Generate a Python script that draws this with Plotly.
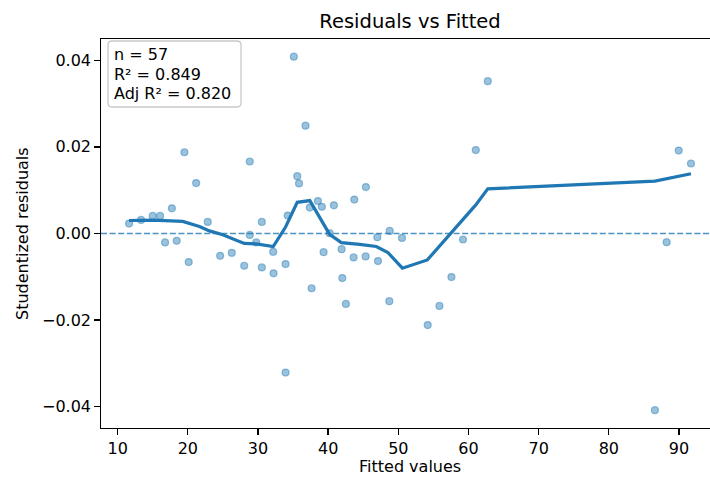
import plotly.graph_objects as go

# Scatter data: fitted values vs studentized residuals
fitted = [11.63, 13.34, 15.00, 16.05, 17.73, 16.76, 18.42, 20.13, 19.52, 21.19,
          22.84, 24.61, 26.27, 28.04, 28.83, 28.83, 29.75, 30.55, 30.55, 32.17,
          32.22, 34.24, 33.93, 33.93, 35.11, 35.60, 35.85, 36.78, 37.39, 37.64,
          38.54, 39.11, 39.35, 40.21, 40.82, 41.92, 42.02, 42.53, 43.73, 43.63,
          45.38, 45.34, 47.01, 47.10, 48.77, 48.72, 50.52, 54.19, 55.86, 57.57,
          59.22, 61.04, 62.75, 86.57, 88.24, 89.96, 91.71]
resid = [0.00230, 0.00313, 0.00405, 0.00405, 0.00582, -0.00207, -0.00170, -0.00660, 0.01876, 0.01163,
         0.00267, -0.00515, -0.00446, -0.00745, -0.00032, 0.01662, -0.00207, 0.00267, -0.00782, -0.00423,
         -0.00920, 0.00414, -0.00706, -0.03211, 0.04083, 0.01324, 0.01156, 0.02490, 0.00598, -0.01264,
         0.00749, 0.00616, -0.00430, 0.00007, 0.00651, -0.00361, -0.01028, -0.01625, 0.00782, -0.00552,
         0.01071, -0.00529, -0.00085, -0.00637, 0.00060, -0.01563, -0.00101, -0.02115, -0.01671, -0.01005,
         -0.00138, 0.01926, 0.03517, -0.04078, -0.00200, 0.01915, 0.01616]

# Smoothed (lowess) curve
low_x = [11.63, 15.00, 19.28, 21.66, 23.09, 24.98, 28.04, 29.75, 32.17, 33.93, 35.60, 37.39,
         40.21, 41.88, 44.48, 46.87, 48.52, 50.58, 54.14, 57.57, 59.22, 61.04, 62.75, 86.57, 91.71]
low_y = [0.0030, 0.0031, 0.0028, 0.0016, 0.0006, -0.0003, -0.0023, -0.0024, -0.0030, 0.0015, 0.0072, 0.0076,
         -0.0002, -0.0021, -0.0025, -0.0030, -0.0044, -0.0080, -0.0061, 0.0002, 0.0033, 0.0066, 0.0103, 0.0121, 0.0138]

x_ticks = [10, 20, 30, 40, 50, 60, 70, 80, 90]
y_ticks = [-0.04, -0.02, 0.00, 0.02, 0.04]
y_tick_text = ["\u22120.04", "\u22120.02", "0.00", "0.02", "0.04"]
stats_lines = ["n = 57", "R\u00b2 = 0.849", "Adj R\u00b2 = 0.820"]

W, H = 710, 479
# plot area in window pixels
PX0, PX1, PY0, PY1 = 101, 710, 39, 428
L, R, T, B = PX0, W - PX1, PY0, H - PY1
pw, ph = PX1 - PX0, PY1 - PY0

def px2paper(x, y):
    return (x - PX0) / pw, (PY1 - y) / ph

FONT = "DejaVu Sans, Verdana, sans-serif"
BLUE = "#1f77b4"

fig = go.Figure()
fig.add_trace(go.Scatter(
    x=fitted, y=resid, mode="markers",
    marker=dict(size=7, color="rgba(31,119,180,0.45)",
                line=dict(width=1.2, color="rgba(31,119,180,0.45)")),
    showlegend=False, hoverinfo="skip"))
fig.add_trace(go.Scatter(
    x=low_x, y=low_y, mode="lines",
    line=dict(color=BLUE, width=3.2), showlegend=False, hoverinfo="skip"))

# dashed zero line
fig.add_shape(type="line", xref="paper", x0=0, x1=1, yref="y", y0=0, y1=0,
              line=dict(color="rgba(31,119,180,0.8)", width=1.6, dash="6px,2.6px"))

# rounded stats box
bx0, by0 = px2paper(108, 41)
bx1, by1 = px2paper(241, 107)
rx = 4 / pw
ry = 4 / ph
path = (f"M {bx0+rx},{by1} L {bx1-rx},{by1} Q {bx1},{by1} {bx1},{by1+ry} "
        f"L {bx1},{by0-ry} Q {bx1},{by0} {bx1-rx},{by0} "
        f"L {bx0+rx},{by0} Q {bx0},{by0} {bx0},{by0-ry} "
        f"L {bx0},{by1+ry} Q {bx0},{by1} {bx0+rx},{by1} Z")
fig.add_shape(type="path", xref="paper", yref="paper", path=path,
              line=dict(color="#c8c8c8", width=1.3), fillcolor="rgba(255,255,255,0.85)")
for i, txt in enumerate(stats_lines):
    ax, ay = px2paper(112, 55 + i * 19)
    fig.add_annotation(text=txt, xref="paper", yref="paper", x=ax, y=ay,
                       xanchor="left", yanchor="middle", showarrow=False,
                       font=dict(family=FONT, size=16, color="black"))

# axis titles
fig.add_annotation(text="Fitted values", xref="paper", yref="paper",
                   x=px2paper(410, 0)[0], y=px2paper(0, 466)[1],
                   xanchor="center", yanchor="middle", showarrow=False,
                   font=dict(family=FONT, size=16, color="black"))
fig.add_annotation(text="Studentized residuals", xref="paper", yref="paper",
                   x=px2paper(23, 0)[0], y=px2paper(0, 234)[1], textangle=-90,
                   xanchor="center", yanchor="middle", showarrow=False,
                   font=dict(family=FONT, size=16, color="black"))

fig.update_layout(
    width=W, height=H,
    margin=dict(l=L, r=R, t=T, b=B, pad=0),
    paper_bgcolor="white", plot_bgcolor="white",
    title=dict(text="Residuals vs Fitted", x=410 / W, xref="container", xanchor="center",
               y=1 - 21 / H, yref="container", yanchor="middle",
               font=dict(family=FONT, size=19.5, color="black")),
    xaxis=dict(range=[7.63, 94.42], tickvals=x_ticks, ticktext=[str(v) for v in x_ticks],
               showgrid=False, zeroline=False, showline=True, linecolor="black", linewidth=1.3,
               mirror=True, ticks="outside", ticklen=5.5, tickwidth=1.3, tickcolor="black",
               tickfont=dict(family=FONT, size=16, color="black")),
    yaxis=dict(range=[-0.0449, 0.0449], tickvals=y_ticks, ticktext=y_tick_text,
               showgrid=False, zeroline=False, showline=True, linecolor="black", linewidth=1.3,
               mirror=False, ticks="outside", ticklen=5.5, tickwidth=1.3, tickcolor="black",
               tickfont=dict(family=FONT, size=16, color="black")),
)

fig.write_html("out.html",
               config={"displayModeBar": False, "staticPlot": True},
               post_script="document.body.style.margin='0';document.body.style.overflow='hidden';")
